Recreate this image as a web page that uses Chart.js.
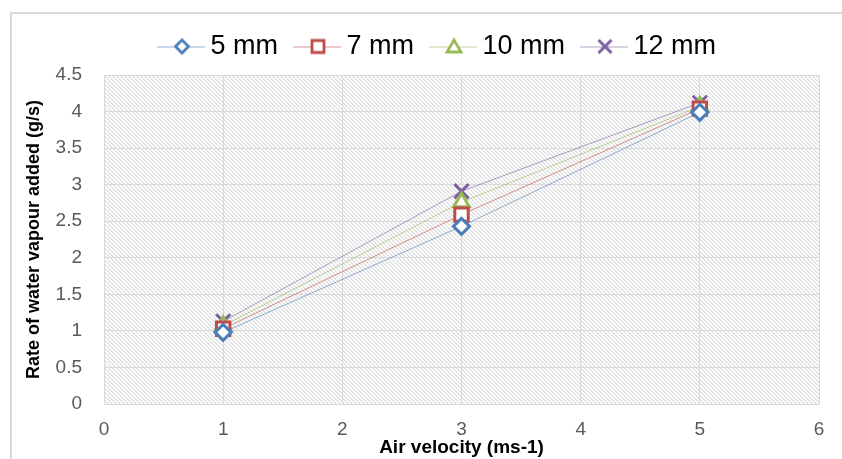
<!DOCTYPE html>
<html>
<head>
<meta charset="utf-8">
<script src="https://cdn.jsdelivr.net/npm/chart.js@4.4.1/dist/chart.umd.min.js"></script>
<style>
html, body { margin: 0; padding: 0; background: #fff; }
#chart-wrap { width: 842px; height: 459px; }
</style>
</head>
<body>
<div id="chart-wrap"><canvas id="water-chart" width="842" height="459"></canvas></div>
<script>
var velocity = [1, 3, 5];
var rate5mm = [0.98, 2.43, 3.99];
var rate7mm = [1.03, 2.59, 4.04];
var rate10mm = [1.07, 2.76, 4.07];
var rate12mm = [1.13, 2.91, 4.12];
var seriesNames = ['5 mm', '7 mm', '10 mm', '12 mm'];
var xTickLabels = ['0', '1', '2', '3', '4', '5', '6'];
var yTickLabels = ['0', '0.5', '1', '1.5', '2', '2.5', '3', '3.5', '4', '4.5'];

var markColors = ['#4a7ebb', '#be4b48', '#98b954', '#7d60a0'];
var lineColors = ['rgba(74,126,187,0.6)', 'rgba(190,75,72,0.6)', 'rgba(152,185,84,0.6)', 'rgba(125,96,160,0.6)'];
var markStyles = ['rectRot', 'rect', 'triangle', 'crossRot'];
var markRadius = [8, 9.5, 9, 10];

Chart.defaults.font.family = "'Liberation Sans', Arial, sans-serif";

// diagonal hatch used for the plot background
function makeHatch() {
    var c = document.createElement('canvas');
    c.width = 8; c.height = 8;
    var g = c.getContext('2d');
    var img = g.createImageData(8, 8);
    for (var y = 0; y < 8; y++) {
        for (var x = 0; x < 8; x++) {
            var k = (y * 8 + x) * 4;
            var on = ((x - y + 8) % 4) < 2;
            var v = on ? 228 : 255;
            img.data[k] = v; img.data[k + 1] = v; img.data[k + 2] = v; img.data[k + 3] = 255;
        }
    }
    g.putImageData(img, 0, 0);
    return c;
}

// legend icon: short line with the marker on it
function makeLegendIcon(i) {
    var c = document.createElement('canvas');
    c.width = 56; c.height = 22;
    var g = c.getContext('2d');
    var cx = 33, cy = 11;
    g.strokeStyle = lineColors[i];
    g.lineWidth = 1;
    g.beginPath(); g.moveTo(8, cy + 0.5); g.lineTo(56, cy + 0.5); g.stroke();
    g.strokeStyle = markColors[i];
    g.fillStyle = '#fff';
    g.lineWidth = 2.8;
    g.beginPath();
    if (markStyles[i] === 'rectRot') {
        g.moveTo(cx, cy - 6.5); g.lineTo(cx + 6.5, cy); g.lineTo(cx, cy + 6.5); g.lineTo(cx - 6.5, cy); g.closePath();
        g.fill(); g.stroke();
    } else if (markStyles[i] === 'rect') {
        g.rect(cx - 6, cy - 6, 12, 12);
        g.fill(); g.stroke();
    } else if (markStyles[i] === 'triangle') {
        g.moveTo(cx, cy - 6.5); g.lineTo(cx + 7, cy + 5.5); g.lineTo(cx - 7, cy + 5.5); g.closePath();
        g.fill(); g.stroke();
    } else {
        g.lineWidth = 3;
        g.moveTo(cx - 6.5, cy - 6.5); g.lineTo(cx + 6.5, cy + 6.5);
        g.moveTo(cx + 6.5, cy - 6.5); g.lineTo(cx - 6.5, cy + 6.5);
        g.stroke();
    }
    return c;
}

var legendIcons = [0, 1, 2, 3].map(makeLegendIcon);
var hatch = makeHatch();

function makeDataset(i, values) {
    return {
        label: seriesNames[i],
        data: velocity.map(function (v, k) { return { x: v, y: values[k] }; }),
        borderColor: lineColors[i],
        backgroundColor: '#fff',
        borderWidth: 1,
        pointStyle: markStyles[i],
        pointRadius: markRadius[i],
        pointBorderColor: markColors[i],
        pointBackgroundColor: '#fff',
        pointBorderWidth: 3,
        tension: 0
    };
}

var backdrop = {
    id: 'backdrop',
    afterInit: function (chart) {
        var legend = chart.legend;
        var fit = legend.fit;
        legend.fit = function () {
            fit.call(this);
            this.height = 57;
        };
    },
    afterLayout: function (chart) {
        // nudge the legend row to where the original sits
        chart.legend.left += 17;
        chart.legend.right += 17;
    },
    beforeDraw: function (chart) {
        var ctx = chart.ctx, a = chart.chartArea;
        ctx.save();
        ctx.strokeStyle = '#d9d9d9';
        ctx.lineWidth = 2;
        ctx.strokeRect(11, 13, 1000, 1000);
        ctx.fillStyle = ctx.createPattern(hatch, 'repeat');
        ctx.fillRect(a.left, a.top, a.right - a.left, a.bottom - a.top);
        ctx.restore();
    }
};

var WaterChart = new Chart(document.getElementById('water-chart'), {
    type: 'line',
    data: {
        datasets: [
            makeDataset(0, rate5mm),
            makeDataset(1, rate7mm),
            makeDataset(2, rate10mm),
            makeDataset(3, rate12mm)
        ]
    },
    options: {
        responsive: false,
        animation: false,
        layout: { padding: { left: 20, right: 23, top: 18, bottom: 0 } },
        plugins: {
            tooltip: { enabled: false },
            legend: {
                position: 'top',
                labels: {
                    usePointStyle: true,
                    pointStyleWidth: 40,
                    padding: 15,
                    color: '#000',
                    font: { size: 27 },
                    generateLabels: function (chart) {
                        var items = Chart.defaults.plugins.legend.labels.generateLabels(chart);
                        items.forEach(function (it, i) { it.pointStyle = legendIcons[i]; });
                        return items;
                    }
                }
            }
        },
        scales: {
            x: {
                type: 'linear',
                min: 0,
                max: 6,
                ticks: {
                    stepSize: 1,
                    padding: 14,
                    color: '#595959',
                    font: { size: 19 },
                    callback: function (v, i) { return xTickLabels[i]; }
                },
                grid: { color: '#d9d9d9', drawTicks: false },
                border: { color: '#d9d9d9' },
                title: {
                    display: true,
                    text: 'Air velocity (ms-1)',
                    color: '#000',
                    font: { size: 19, weight: 'bold' },
                    padding: { top: 0, bottom: 0 }
                },
                afterFit: function (s) { s.height = 55; }
            },
            y: {
                min: 0,
                max: 4.5,
                ticks: {
                    stepSize: 0.5,
                    padding: 22,
                    color: '#595959',
                    font: { size: 19 },
                    callback: function (v, i) { return yTickLabels[i]; }
                },
                grid: { color: '#d9d9d9', drawTicks: false },
                border: { color: '#d9d9d9' },
                title: {
                    display: true,
                    text: 'Rate of water vapour added (g/s)',
                    color: '#000',
                    font: { size: 18, weight: 'bold' },
                    padding: { top: 3, bottom: 0 }
                },
                afterFit: function (s) { s.width = 84; }
            }
        }
    },
    plugins: [backdrop]
});
</script>
</body>
</html>
